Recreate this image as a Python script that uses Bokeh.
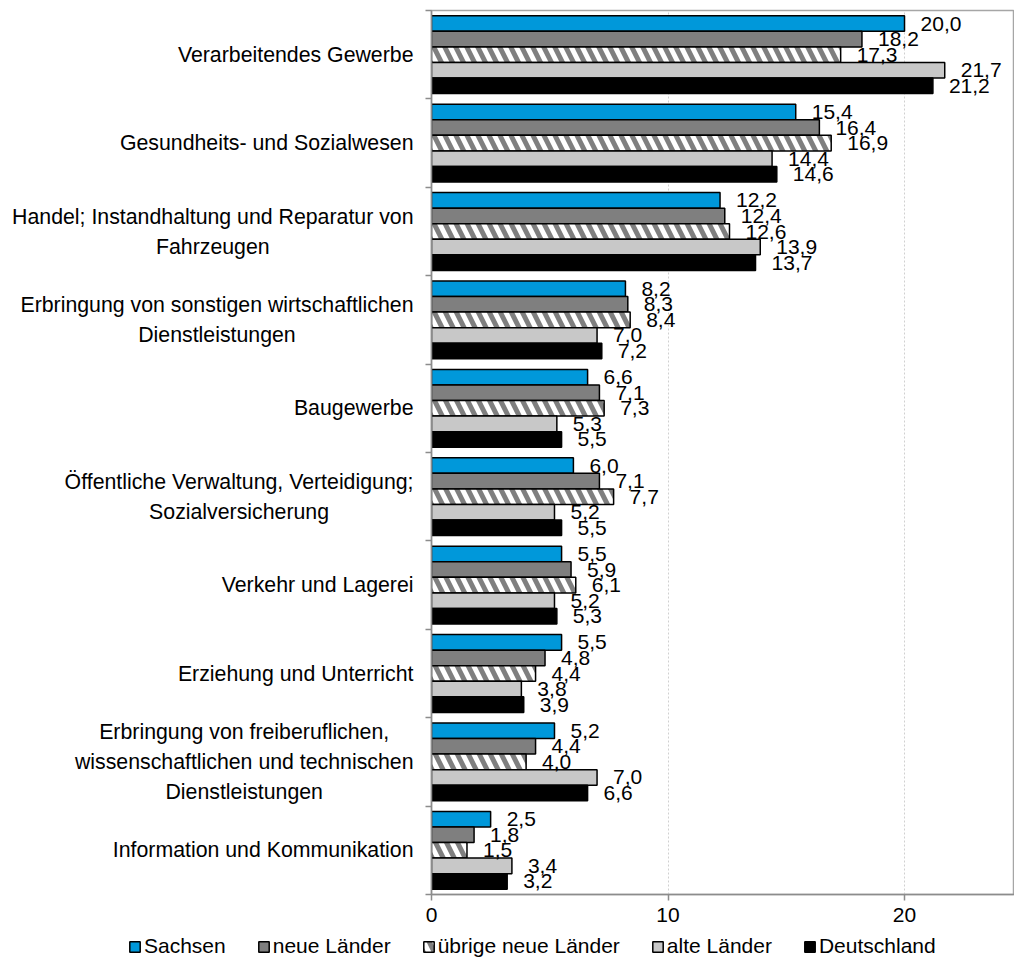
import glob
from bokeh.plotting import figure
from bokeh.layouts import column, row
from bokeh.models import ColumnDataSource, FixedTicker, Legend, LegendItem, Range1d
from bokeh.transform import dodge
from bokeh.embed import file_html
from bokeh.resources import INLINE
from bokeh.core.properties import value

categories = [
    "Verarbeitendes Gewerbe",
    "Gesundheits- und Sozialwesen",
    "Handel; Instandhaltung und Reparatur von\nFahrzeugen",
    "Erbringung von sonstigen wirtschaftlichen\nDienstleistungen",
    "Baugewerbe",
    "Öffentliche Verwaltung, Verteidigung;\nSozialversicherung",
    "Verkehr und Lagerei",
    "Erziehung und Unterricht",
    "Erbringung von freiberuflichen,\nwissenschaftlichen und technischen\nDienstleistungen",
    "Information und Kommunikation",
]
series_names = ["Sachsen", "neue Länder", "übrige neue Länder", "alte Länder", "Deutschland"]
sachsen = [20.0, 15.4, 12.2, 8.2, 6.6, 6.0, 5.5, 5.5, 5.2, 2.5]
neue_laender = [18.2, 16.4, 12.4, 8.3, 7.1, 7.1, 5.9, 4.8, 4.4, 1.8]
uebrige_neue = [17.3, 16.9, 12.6, 8.4, 7.3, 7.7, 6.1, 4.4, 4.0, 1.5]
alte_laender = [21.7, 14.4, 13.9, 7.0, 5.3, 5.2, 5.2, 3.8, 7.0, 3.4]
deutschland = [21.2, 14.6, 13.7, 7.2, 5.5, 5.5, 5.3, 3.9, 6.6, 3.2]
x_ticks = [0, 10, 20]

FONT = "Liberation Sans"
CAT_SIZE = 21.3
LAB_W = 415      # width of the category-label panel
LAB_RIGHT = 413  # right edge of the category label blocks
TOP, BOTTOM = 10, 36
H_MAIN = 930
H_LEG = 28

n = len(categories)
ypos = [n - i - 0.5 for i in range(n)]
boundaries = list(range(n + 1))


# ---- text measuring for centred multi-line category labels ----
def _load_font():
    try:
        from PIL import ImageFont
    except Exception:
        return None
    try:
        return ImageFont.truetype("LiberationSans-Regular.ttf", 100)
    except Exception:
        pass
    paths = glob.glob("/usr/share/fonts/**/LiberationSans-Regular.ttf", recursive=True)
    paths += glob.glob("/usr/local/share/fonts/**/LiberationSans-Regular.ttf", recursive=True)
    for pth in paths:
        try:
            return ImageFont.truetype(pth, 100)
        except Exception:
            pass
    return None


_font = _load_font()


def text_width(s, size):
    if _font is not None:
        return _font.getlength(s) * size / 100.0
    return len(s) * 0.5 * size


cat_x = [LAB_RIGHT - max(text_width(l, CAT_SIZE) for l in c.split("\n")) / 2 for c in categories]

cols = ["s0", "s1", "s2", "s3", "s4"]
data = {"y": ypos}
for c, vals in zip(cols, [sachsen, neue_laender, uebrige_neue, alte_laender, deutschland]):
    data[c] = vals
    data[c + "_lab"] = [f"{v:.1f}".replace(".", ",") for v in vals]
src = ColumnDataSource(data)

# ---- main chart ----
p = figure(width=1014 - LAB_W, height=H_MAIN, x_range=Range1d(0, 24.65), y_range=Range1d(0, n),
           output_backend="svg", toolbar_location=None, title=None,
           min_border_left=16, min_border_right=0, min_border_top=TOP, min_border_bottom=BOTTOM)
p.outline_line_color = "#A6A6A6"
p.outline_line_width = 1.5

bar_h = 0.176
offsets = [2 * bar_h, bar_h, 0, -bar_h, -2 * bar_h]
styles = [
    dict(fill_color="#0098DA"),
    dict(fill_color="#7F7F7F"),
    dict(fill_color="white", hatch_pattern="\\", hatch_color="#7F7F7F", hatch_weight=5, hatch_scale=22),
    dict(fill_color="#C8C8C8"),
    dict(fill_color="#000000"),
]
for c, off, st in zip(cols, offsets, styles):
    p.hbar(y=dodge("y", off, range=p.y_range), left=0, right=c, height=bar_h,
           line_color="black", line_width=1.5, source=src, **st)
for c, off in zip(cols, offsets):
    p.text(x=c, y=dodge("y", off, range=p.y_range), text=c + "_lab", source=src,
           x_offset=16, text_baseline="middle", text_align="left",
           text_font=value(FONT), text_font_size="21px", text_color="black")

p.xaxis.ticker = FixedTicker(ticks=x_ticks)
p.xaxis.axis_line_color = "#8C8C8C"
p.xaxis.axis_line_width = 1.5
p.xaxis.major_tick_line_color = "#8C8C8C"
p.xaxis.major_tick_line_width = 1.5
p.xaxis.major_tick_out = 6
p.xaxis.major_tick_in = 0
p.xaxis.minor_tick_line_color = None
p.xaxis.major_label_text_font = FONT
p.xaxis.major_label_text_font_size = "21px"
p.xaxis.major_label_text_color = "black"
p.xaxis.major_label_standoff = 7

p.yaxis.ticker = FixedTicker(ticks=boundaries)
p.yaxis.major_label_overrides = {b: "" for b in boundaries}
p.yaxis.axis_line_color = "#8C8C8C"
p.yaxis.axis_line_width = 1.5
p.yaxis.major_tick_line_color = "#8C8C8C"
p.yaxis.major_tick_line_width = 1.5
p.yaxis.major_tick_out = 6
p.yaxis.major_tick_in = 0
p.yaxis.minor_tick_line_color = None
p.yaxis.major_label_standoff = 0
p.yaxis.major_label_text_font_size = "1px"

p.xgrid.ticker = FixedTicker(ticks=x_ticks)
p.xgrid.grid_line_color = "#D0D0D0"
p.xgrid.grid_line_dash = "2 2"
p.ygrid.grid_line_color = None

# ---- category labels panel ----
lab = figure(width=LAB_W, height=H_MAIN, x_range=Range1d(0, LAB_W), y_range=p.y_range,
             output_backend="svg", toolbar_location=None, title=None,
             x_axis_location=None, y_axis_location=None,
             min_border_left=0, min_border_right=0, min_border_top=TOP, min_border_bottom=BOTTOM)
lab.outline_line_color = None
lab.xgrid.visible = False
lab.ygrid.visible = False
lab.text(x=cat_x, y=ypos, text=categories, text_align="center", text_baseline="middle",
         text_font=value(FONT), text_font_size=f"{CAT_SIZE}px", text_color="black",
         text_line_height=1.25)

# ---- legend panel (small swatch rects lie outside its visible range; only legend shows) ----
leg = figure(width=1014, height=H_LEG, x_range=Range1d(-3, -2), y_range=Range1d(-n - 6, -n - 5),
             output_backend="svg", toolbar_location=None, title=None,
             x_axis_location=None, y_axis_location=None, min_border=0)
leg.outline_line_color = None
leg.background_fill_color = None
leg.border_fill_color = None
leg.xgrid.visible = False
leg.ygrid.visible = False
leg_renderers = [leg.rect(x=c, y="y", width=13, height=13, width_units="screen", height_units="screen",
                          source=src, line_color="black", line_width=1.5, **st)
                 for c, st in zip(cols, styles)]
legend = Legend(items=[LegendItem(label=nm, renderers=[r]) for nm, r in zip(series_names, leg_renderers)],
                orientation="horizontal", location=(128, 0), padding=0, margin=0,
                spacing=31, glyph_width=13, glyph_height=13, label_standoff=3,
                label_text_font=FONT, label_text_font_size="21px", label_text_color="black",
                border_line_color=None, background_fill_alpha=0)
leg.add_layout(legend, "center")

layout = column(row(lab, p), leg)
open("out.html", "w").write(file_html(layout, INLINE))
